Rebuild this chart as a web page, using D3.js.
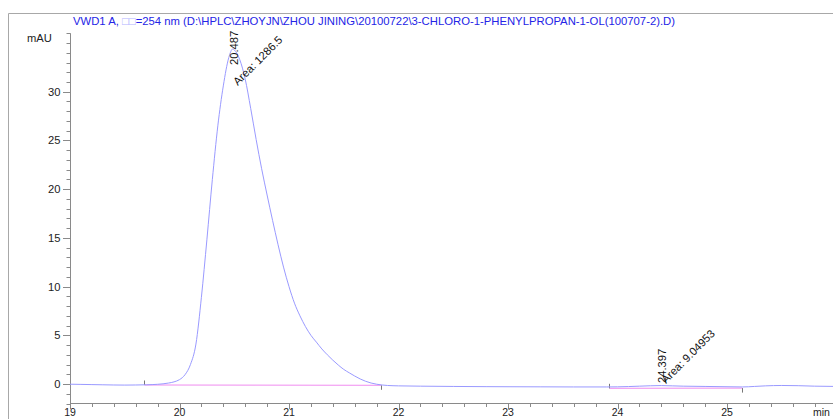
<!DOCTYPE html>
<html>
<head>
<meta charset="utf-8">
<script src="https://cdn.jsdelivr.net/npm/d3@7"></script>
<style>
  html, body { margin: 0; padding: 0; background: #fff; }
  svg { display: block; font-family: "Liberation Sans", Arial, sans-serif; }
</style>
</head>
<body>
<svg id="chart" width="833" height="419"></svg>
<script>
// ---- data ----
const titleParts = ["VWD1 A, ", "\u25A1\u25A1", "=254 nm (D:\\HPLC\\ZHOYJN\\ZHOU JINING\\20100722\\3-CHLORO-1-PHENYLPROPAN-1-OL(100707-2).D)"];
const yLabel = "mAU";
const xUnit = "min";
const xTickValues = [19, 20, 21, 22, 23, 24, 25];
const yTickValues = [0, 5, 10, 15, 20, 25, 30];

const times = [19.00, 19.10, 19.20, 19.30, 19.40, 19.50, 19.60, 19.70, 19.75, 19.80, 19.85, 19.90, 19.95,
  20.00, 20.05, 20.10, 20.15, 20.20, 20.25, 20.30, 20.35, 20.40, 20.45, 20.487, 20.50, 20.55, 20.60, 20.65,
  20.70, 20.75, 20.80, 20.85, 20.90, 20.95, 21.00, 21.05, 21.10, 21.15, 21.20, 21.25, 21.30, 21.35, 21.40,
  21.45, 21.50, 21.55, 21.60, 21.65, 21.70, 21.75, 21.80, 21.85, 21.90, 22.00, 22.20, 22.50, 22.80, 23.00,
  23.30, 23.60, 23.90, 24.00, 24.10, 24.20, 24.30, 24.40, 24.50, 24.60, 24.80, 25.00, 25.14, 25.25, 25.35,
  25.50, 25.65, 25.80, 26.00];
const signal = [-0.02, -0.04, -0.06, -0.08, -0.10, -0.11, -0.10, -0.08, -0.06, -0.03, 0.02, 0.10, 0.22,
  0.45, 0.95, 2.0, 4.1, 8.9, 14.8, 21.0, 26.5, 30.6, 33.5, 34.4, 34.3, 33.3, 31.3, 28.3,
  25.1, 22.1, 19.4, 16.8, 14.3, 12.0, 10.0, 8.3, 7.0, 5.9, 5.0, 4.3, 3.6, 3.0, 2.45,
  1.95, 1.5, 1.15, 0.82, 0.52, 0.28, 0.10, -0.02, -0.10, -0.15, -0.19, -0.22, -0.25, -0.27, -0.28,
  -0.29, -0.30, -0.30, -0.29, -0.26, -0.22, -0.18, -0.16, -0.19, -0.22, -0.25, -0.28, -0.30, -0.25, -0.19,
  -0.15, -0.17, -0.22, -0.25];

const peakRT = [20.487, 24.397];
const peakRTLabel = ["20.487", "24.397"];
const peakArea = ["Area: 1286.5", "Area: 9.04953"];
const integStart = [19.68, 23.925];
const integEnd = [21.84, 25.14];
const baseStart = [-0.10, -0.44];
const baseEnd = [-0.13, -0.42];

// ---- layout ----
const svg = d3.select("#chart");
const W = 833, H = 419;
const x = d3.scaleLinear().domain([19, 26]).range([70, 836.5]);
const y = d3.scaleLinear().domain([-2, 36]).range([403.5, 33.3]);

// frame
svg.append("path").attr("d", `M8.5,${H} V13.5 H${W}`).attr("fill", "none").attr("stroke", "#a8a8a8").attr("stroke-width", 1);

// title
const title = svg.append("text").attr("x", 73).attr("y", 24.5).attr("font-size", 11.3).attr("fill", "#2424e6");
title.append("tspan").text(titleParts[0]);
title.append("tspan").attr("fill", "#b4b4ff").text(titleParts[1]);
title.append("tspan").text(titleParts[2]);

// y axis
const axisColor = "#8a8a8a";
const yMinor = d3.range(-2, 37, 1);
const gy = svg.append("g");
gy.append("line").attr("x1", 70.5).attr("x2", 70.5).attr("y1", y(36)).attr("y2", y(-2)).attr("stroke", axisColor);
gy.selectAll(".ym").data(yMinor).join("line")
  .attr("x1", d => yTickValues.includes(d) ? 63 : 66.5).attr("x2", 70.5)
  .attr("y1", d => Math.round(y(d)) + 0.5).attr("y2", d => Math.round(y(d)) + 0.5)
  .attr("stroke", axisColor);
gy.selectAll(".yl").data(yTickValues).join("text")
  .attr("x", 60.5).attr("y", d => y(d) + 4).attr("text-anchor", "end")
  .attr("font-size", 11.2).attr("fill", "#222").text(d => d);
svg.append("text").attr("x", 27).attr("y", 42).attr("font-size", 11.2).attr("fill", "#222").text(yLabel);

// x axis
const xMinor = d3.range(0, 35).map(i => 19 + i * 0.2);
const gx = svg.append("g");
gx.append("line").attr("x1", 70).attr("x2", W).attr("y1", 403.5).attr("y2", 403.5).attr("stroke", axisColor);
gx.selectAll(".xm").data(xMinor).join("line")
  .attr("x1", d => Math.round(x(d)) + 0.5).attr("x2", d => Math.round(x(d)) + 0.5)
  .attr("y1", 403.5).attr("y2", d => (Math.abs(d - Math.round(d)) < 1e-6) ? 409 : 407)
  .attr("stroke", axisColor);
gx.selectAll(".xl").data(xTickValues).join("text")
  .attr("x", d => x(d)).attr("y", 416).attr("text-anchor", "middle")
  .attr("font-size", 10.5).attr("fill", "#222").text(d => d);
svg.append("text").attr("x", 813).attr("y", 416).attr("font-size", 10.5).attr("fill", "#222").text(xUnit);

// integration baselines
peakRT.forEach((rt, i) => {
  svg.append("line")
    .attr("x1", x(integStart[i])).attr("y1", y(baseStart[i]))
    .attr("x2", x(integEnd[i])).attr("y2", y(baseEnd[i]))
    .attr("stroke", "#f08cf0").attr("stroke-width", 1);
  svg.append("line")
    .attr("x1", Math.round(x(integStart[i])) + 0.5).attr("x2", Math.round(x(integStart[i])) + 0.5)
    .attr("y1", y(baseStart[i]) - 4.5).attr("y2", y(baseStart[i]))
    .attr("stroke", "#777");
  svg.append("line")
    .attr("x1", Math.round(x(integEnd[i])) + 0.5).attr("x2", Math.round(x(integEnd[i])) + 0.5)
    .attr("y1", y(baseEnd[i])).attr("y2", y(baseEnd[i]) + 4.5)
    .attr("stroke", "#777");
});

// signal
const pts = times.map((t, i) => [t, signal[i]]);
svg.append("path").datum(pts)
  .attr("d", d3.line().x(d => x(d[0])).y(d => y(d[1])).curve(d3.curveMonotoneX))
  .attr("fill", "none").attr("stroke", "#9a9aff").attr("stroke-width", 1);

// peak labels
const rtAnchorY = [65, 383];
const areaAnchorY = [86, 384];
peakRT.forEach((rt, i) => {
  const px = x(rt);
  svg.append("text")
    .attr("transform", `translate(${px + 5.5},${rtAnchorY[i]}) rotate(-90)`)
    .attr("font-size", 11.2).attr("fill", "#111").text(peakRTLabel[i]);
  svg.append("text")
    .attr("transform", `translate(${px + 5},${areaAnchorY[i]}) rotate(-45)`)
    .attr("font-size", 11.2).attr("fill", "#111").text(peakArea[i]);
});
</script>
</body>
</html>
